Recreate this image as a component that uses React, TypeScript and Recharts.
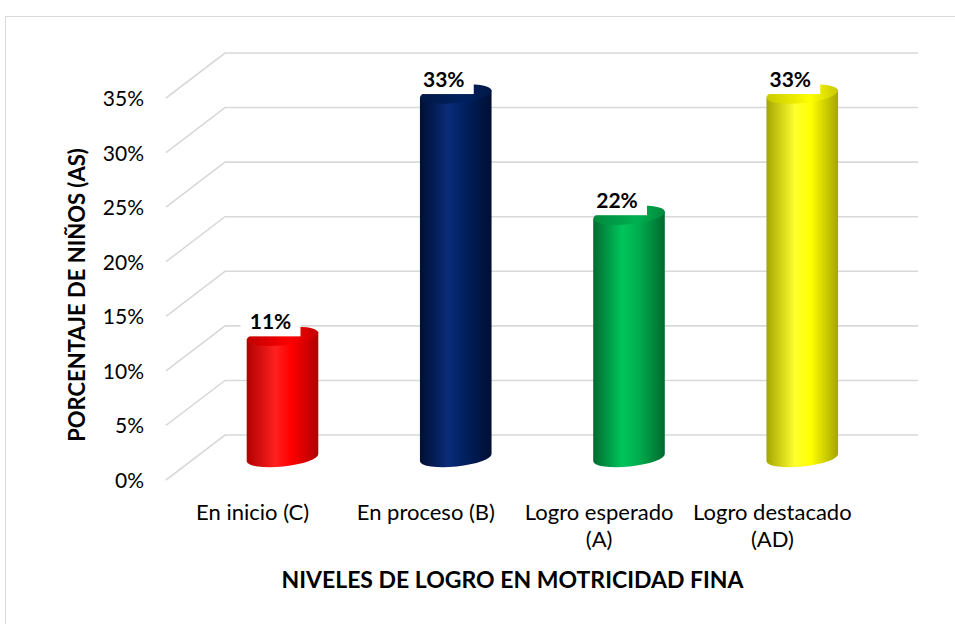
import { BarChart, Bar, XAxis, YAxis, CartesianGrid, LabelList, Label } from 'recharts';

const categories = ['En inicio (C)', 'En proceso (B)', 'Logro esperado (A)', 'Logro destacado (AD)'];
const percentages = [11.1, 33.3, 22.2, 33.3];
const yTicks = [0, 5, 10, 15, 20, 25, 30, 35];

const data = categories.map((name, i) => ({ name, value: percentages[i] }));

// shading per cylinder: edge / highlight / top face
const palette = [
  { edge: '#b00000', mid: '#ff0000', hi: '#ff2020', top: '#c00000' },
  { edge: '#000f33', mid: '#002060', hi: '#0a2c7a', top: '#001845' },
  { edge: '#006b2f', mid: '#00b050', hi: '#00c45c', top: '#008a3e' },
  { edge: '#a5a500', mid: '#ffff00', hi: '#ffff30', top: '#c8c800' },
];

const DEPTH_X = 59;
const DEPTH_Y = 45;
const FONT = 'Lato, "Open Sans", sans-serif';
const TILT = 6;

function gridLine(props: any) {
  const { x1, y1, x2, index } = props;
  const d = `M${x1},${y1} L${x1 + DEPTH_X},${y1 - DEPTH_Y} L${x2 + DEPTH_X},${y1 - DEPTH_Y}`;
  return <path key={`g-${index}-${y1}`} d={d} stroke="#d9d9d9" strokeWidth={1.6} fill="none" />;
}

function Cylinder(props: any) {
  const { x, y, width, height, index } = props;
  if (!width || height == null) return null;
  const c = palette[index % palette.length];
  const cx = x + width / 2 + DEPTH_X / 2;
  const top = y - DEPTH_Y / 2;
  const base = y + height - DEPTH_Y / 2;
  const rx = width / 2;
  const ry = 9;
  const rad = (TILT * Math.PI) / 180;
  const hx = rx * Math.cos(rad);
  const hy = rx * Math.sin(rad);
  const id = `cyl-${index}`;
  const body =
    `M${cx - hx},${top + hy} L${cx - hx},${base + hy} ` +
    `A${rx},${ry} ${-TILT} 0 0 ${cx + hx},${base - hy} ` +
    `L${cx + hx},${top - hy} Z`;
  return (
    <g>
      <defs>
        <linearGradient id={`${id}-b`} x1="0" y1="0" x2="1" y2="0">
          <stop offset="0%" stopColor={c.edge} />
          <stop offset="40%" stopColor={c.hi} />
          <stop offset="62%" stopColor={c.mid} />
          <stop offset="100%" stopColor={c.edge} />
        </linearGradient>
        <linearGradient id={`${id}-t`} x1="0" y1="0" x2="1" y2="0">
          <stop offset="0%" stopColor={c.top} />
          <stop offset="60%" stopColor={c.mid} />
          <stop offset="100%" stopColor={c.top} />
        </linearGradient>
      </defs>
      <path d={body} fill={`url(#${id}-b)`} />
      <ellipse cx={cx} cy={top} rx={rx} ry={ry} fill={`url(#${id}-t)`} transform={`rotate(${-TILT} ${cx} ${top})`} />
    </g>
  );
}

function valueLabel(props: any) {
  const { x, y, width, value, index } = props;
  const cx = x + width / 2 + DEPTH_X / 2;
  const top = y - DEPTH_Y / 2;
  return (
    <g key={`lbl-${index}`}>
      <rect x={cx - 42} y={top - 25} width={60} height={25} fill="#ffffff" />
      <text x={cx - 12} y={top - 7} textAnchor="middle" fontFamily={FONT} fontWeight="bold" fontSize={21} fill="#000">
        {`${Math.round(Number(value))}%`}
      </text>
    </g>
  );
}

function YTick(props: any) {
  const { x, y, payload } = props;
  return (
    <text x={x - 22} y={y} dy="0.38em" textAnchor="end" fontFamily={FONT} fontSize={21} fill="#000">
      {`${payload.value}%`}
    </text>
  );
}

function XTick(props: any) {
  const { x, y, payload } = props;
  const label: string = payload.value;
  let lines = [label];
  if (label.length > 15) {
    const cut = label.lastIndexOf(' ');
    lines = [label.slice(0, cut), label.slice(cut + 1)];
  }
  return (
    <text x={x} y={y + 40} textAnchor="middle" fontFamily={FONT} fontSize={22} fill="#000">
      {lines.map((l, i) => (
        <tspan key={i} x={x} dy={i === 0 ? 0 : 27}>
          {l}
        </tspan>
      ))}
    </text>
  );
}

export default function App() {
  return (
    <div style={{ position: 'absolute', left: 0, top: 0, width: 955, height: 624, overflow: 'hidden', background: '#fff' }}>
      <div
        style={{
          position: 'absolute',
          left: 5,
          top: 16,
          width: 1000,
          height: 700,
          border: '1.5px solid #d9d9d9',
        }}
      />
      <div style={{ position: 'absolute', left: 0, top: 0 }}>
        <BarChart width={955} height={624} data={data} margin={{ top: 98, right: 96, bottom: 84, left: 66 }} barSize={72}>
          <CartesianGrid vertical={false} horizontal={gridLine} />
          <XAxis dataKey="name" height={60} axisLine={false} tickLine={false} tickSize={0} tickMargin={0} tick={<XTick />} interval={0}>
            <Label
              content={(p: any) => {
                const vb = p.viewBox;
                return (
                  <text x={vb.x + vb.width / 2} y={vb.y + 108} textAnchor="middle" fontFamily={FONT} fontWeight="bold" fontSize={23} fill="#000">
                    NIVELES DE LOGRO EN MOTRICIDAD FINA
                  </text>
                );
              }}
            />
          </XAxis>
          <YAxis
            width={100}
            domain={[0, 35]}
            ticks={yTicks}
            axisLine={false}
            tickLine={false}
            tickSize={0}
            tickMargin={0}
            tick={<YTick />}
          >
            <Label
              content={(p: any) => {
                const vb = p.viewBox;
                const cx = vb.x + 11;
                const cy = vb.y + vb.height / 2 + 6;
                return (
                  <text
                    x={cx}
                    y={cy}
                    dy="0.35em"
                    textAnchor="middle"
                    transform={`rotate(-90 ${cx} ${cy})`}
                    fontFamily={FONT}
                    fontWeight="bold"
                    fontSize={22}
                    fill="#000"
                  >
                    PORCENTAJE DE NIÑOS (AS)
                  </text>
                );
              }}
            />
          </YAxis>
          <Bar dataKey="value" shape={<Cylinder />} isAnimationActive={false}>
            <LabelList dataKey="value" content={valueLabel} />
          </Bar>
        </BarChart>
      </div>
    </div>
  );
}
